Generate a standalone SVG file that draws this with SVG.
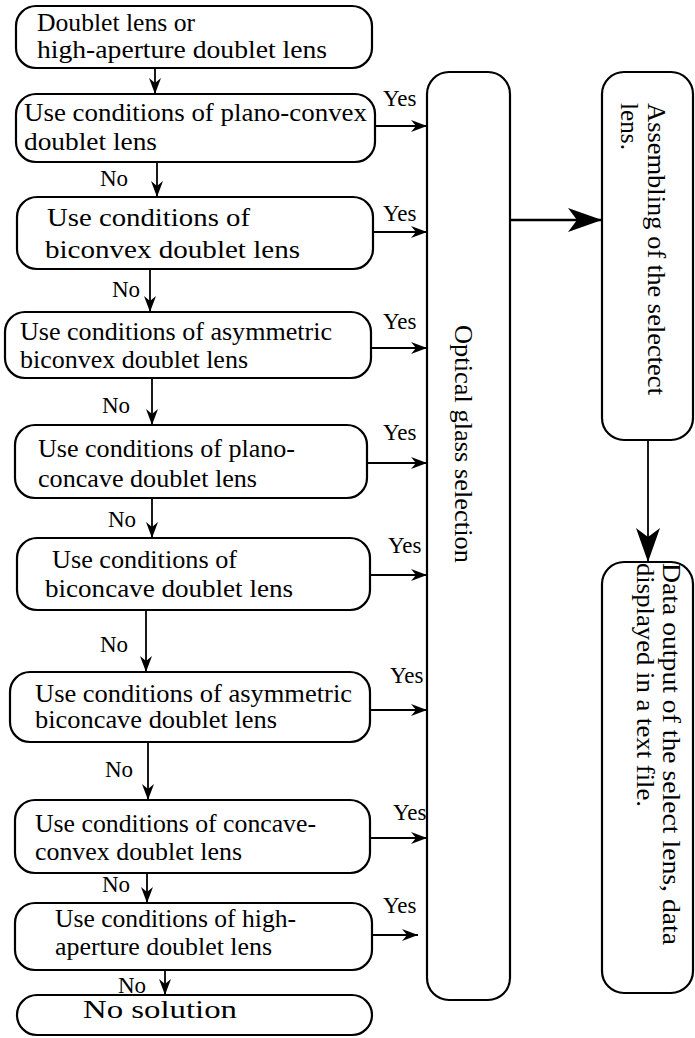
<svg xmlns="http://www.w3.org/2000/svg" width="695" height="1038" viewBox="0 0 695 1038">
  <style>
    .box { fill: #ffffff; stroke: #000000; stroke-width: 2.2; }
    .lbl { font-family: "Liberation Serif", "Times New Roman", serif; font-size: 25px; fill: #000000; }
    .tag { font-family: "Liberation Serif", "Times New Roman", serif; font-size: 23px; fill: #000000; }
    .edge { fill: none; stroke: #000000; stroke-width: 1.8; }
    .thick { fill: none; stroke: #000000; stroke-width: 2.6; }
  </style>
  <defs>
    <marker id="arrow" viewBox="0 0 16 12" refX="16" refY="6" markerWidth="16" markerHeight="12" markerUnits="userSpaceOnUse" orient="auto">
      <path d="M0,0 L16,6 L0,12 L5,6 z" fill="#000000"/>
    </marker>
    <marker id="arrowBig" viewBox="0 0 34 24" refX="34" refY="12" markerWidth="34" markerHeight="24" markerUnits="userSpaceOnUse" orient="auto">
      <path d="M0,0 L34,12 L0,24 L9,12 z" fill="#000000"/>
    </marker>
  </defs>

  <!-- decision chain on the left -->
  <g id="start">
    <rect class="box" x="16" y="6" width="356" height="62" rx="20"/>
    <text class="lbl" x="37" y="31" textLength="158" lengthAdjust="spacingAndGlyphs">Doublet lens or</text>
    <text class="lbl" x="37" y="58" textLength="290" lengthAdjust="spacingAndGlyphs">high-aperture doublet lens</text>
  </g>
  <g id="plano-convex">
    <rect class="box" x="16" y="94" width="359" height="68" rx="20"/>
    <text class="lbl" x="24" y="121" textLength="343" lengthAdjust="spacingAndGlyphs">Use conditions of plano-convex</text>
    <text class="lbl" x="24" y="150" textLength="133" lengthAdjust="spacingAndGlyphs">doublet lens</text>
  </g>
  <g id="biconvex">
    <rect class="box" x="17" y="197" width="356" height="72" rx="20"/>
    <text class="lbl" x="47" y="226" textLength="203" lengthAdjust="spacingAndGlyphs">Use conditions of</text>
    <text class="lbl" x="45" y="258" textLength="255" lengthAdjust="spacingAndGlyphs">biconvex doublet lens</text>
  </g>
  <g id="asym-biconvex">
    <rect class="box" x="5" y="312" width="366" height="66" rx="20"/>
    <text class="lbl" x="20" y="340" textLength="312" lengthAdjust="spacingAndGlyphs">Use conditions of asymmetric</text>
    <text class="lbl" x="20" y="368" textLength="228" lengthAdjust="spacingAndGlyphs">biconvex doublet lens</text>
  </g>
  <g id="plano-concave">
    <rect class="box" x="15" y="425" width="352" height="73" rx="20"/>
    <text class="lbl" x="38" y="457" textLength="257" lengthAdjust="spacingAndGlyphs">Use conditions of plano-</text>
    <text class="lbl" x="38" y="487" textLength="219" lengthAdjust="spacingAndGlyphs">concave doublet lens</text>
  </g>
  <g id="biconcave">
    <rect class="box" x="17" y="538" width="353" height="72" rx="20"/>
    <text class="lbl" x="52" y="568" textLength="185" lengthAdjust="spacingAndGlyphs">Use conditions of</text>
    <text class="lbl" x="45" y="597" textLength="248" lengthAdjust="spacingAndGlyphs">biconcave doublet lens</text>
  </g>
  <g id="asym-biconcave">
    <rect class="box" x="10" y="672" width="360" height="70" rx="20"/>
    <text class="lbl" x="35" y="702" textLength="317" lengthAdjust="spacingAndGlyphs">Use conditions of asymmetric</text>
    <text class="lbl" x="35" y="728" textLength="242" lengthAdjust="spacingAndGlyphs">biconcave doublet lens</text>
  </g>
  <g id="concave-convex">
    <rect class="box" x="15" y="800" width="355" height="73" rx="20"/>
    <text class="lbl" x="35" y="832" textLength="281" lengthAdjust="spacingAndGlyphs">Use conditions of concave-</text>
    <text class="lbl" x="35" y="860" textLength="207" lengthAdjust="spacingAndGlyphs">convex doublet lens</text>
  </g>
  <g id="high-aperture">
    <rect class="box" x="15" y="903" width="357" height="67" rx="20"/>
    <text class="lbl" x="55" y="927" textLength="241" lengthAdjust="spacingAndGlyphs">Use conditions of high-</text>
    <text class="lbl" x="55" y="955" textLength="217" lengthAdjust="spacingAndGlyphs">aperture doublet lens</text>
  </g>
  <g id="no-solution">
    <rect class="box" x="17" y="995" width="355" height="40" rx="20"/>
    <text class="lbl" x="83" y="1018" textLength="154" lengthAdjust="spacingAndGlyphs">No solution</text>
  </g>

  <!-- processing stages on the right -->
  <g id="glass-selection">
    <rect class="box" x="427" y="72" width="83" height="928" rx="22"/>
    <text class="lbl" transform="translate(455,325) rotate(90)" textLength="238" lengthAdjust="spacingAndGlyphs">Optical glass selection</text>
  </g>
  <g id="assembling">
    <rect class="box" x="602" y="72" width="91" height="368" rx="22"/>
    <text class="lbl" transform="translate(648,103) rotate(90)" textLength="292" lengthAdjust="spacingAndGlyphs">Assembling of the selectect</text>
    <text class="lbl" transform="translate(621,103) rotate(90)" textLength="47" lengthAdjust="spacingAndGlyphs">lens.</text>
  </g>
  <g id="data-output">
    <rect class="box" x="602" y="562" width="91" height="431" rx="22"/>
    <text class="lbl" transform="translate(663,563) rotate(90)" textLength="382" lengthAdjust="spacingAndGlyphs">Data output of the select lens, data</text>
    <text class="lbl" transform="translate(637,563) rotate(90)" textLength="244" lengthAdjust="spacingAndGlyphs">displayed in a text file.</text>
  </g>

  <g id="connectors">
    <!-- "No" branches down the chain -->
    <line class="edge" x1="155" y1="68" x2="155" y2="94" marker-end="url(#arrow)"/>
    <line class="edge" x1="157" y1="162" x2="157" y2="197" marker-end="url(#arrow)"/>
    <line class="edge" x1="150" y1="269" x2="150" y2="312" marker-end="url(#arrow)"/>
    <line class="edge" x1="152" y1="378" x2="152" y2="425" marker-end="url(#arrow)"/>
    <line class="edge" x1="152" y1="498" x2="152" y2="538" marker-end="url(#arrow)"/>
    <line class="edge" x1="146" y1="610" x2="146" y2="672" marker-end="url(#arrow)"/>
    <line class="edge" x1="148" y1="742" x2="148" y2="800" marker-end="url(#arrow)"/>
    <line class="edge" x1="147" y1="873" x2="147" y2="903" marker-end="url(#arrow)"/>
    <line class="edge" x1="165" y1="970" x2="165" y2="995" marker-end="url(#arrow)"/>
    <text class="tag" x="100" y="186">No</text>
    <text class="tag" x="112" y="297">No</text>
    <text class="tag" x="102" y="413">No</text>
    <text class="tag" x="108" y="527">No</text>
    <text class="tag" x="100" y="652">No</text>
    <text class="tag" x="105" y="777">No</text>
    <text class="tag" x="102" y="892">No</text>
    <text class="tag" x="118" y="993">No</text>

    <!-- "Yes" branches into glass selection -->
    <line class="edge" x1="375" y1="126" x2="427" y2="126" marker-end="url(#arrow)"/>
    <line class="edge" x1="373" y1="232" x2="427" y2="232" marker-end="url(#arrow)"/>
    <line class="edge" x1="371" y1="348" x2="427" y2="348" marker-end="url(#arrow)"/>
    <line class="edge" x1="367" y1="463" x2="427" y2="463" marker-end="url(#arrow)"/>
    <line class="edge" x1="370" y1="575" x2="427" y2="575" marker-end="url(#arrow)"/>
    <line class="edge" x1="370" y1="710" x2="427" y2="710" marker-end="url(#arrow)"/>
    <line class="edge" x1="370" y1="838" x2="427" y2="838" marker-end="url(#arrow)"/>
    <line class="edge" x1="372" y1="935" x2="418" y2="935" marker-end="url(#arrow)"/>
    <text class="tag" x="383" y="106">Yes</text>
    <text class="tag" x="383" y="221">Yes</text>
    <text class="tag" x="383" y="329">Yes</text>
    <text class="tag" x="383" y="440">Yes</text>
    <text class="tag" x="388" y="553">Yes</text>
    <text class="tag" x="390" y="683">Yes</text>
    <text class="tag" x="393" y="820">Yes</text>
    <text class="tag" x="383" y="913">Yes</text>

    <!-- stage to stage -->
    <line class="thick" x1="510" y1="220" x2="602" y2="220" marker-end="url(#arrowBig)"/>
    <line class="edge" x1="648" y1="440" x2="648" y2="562" marker-end="url(#arrowBig)"/>
  </g>
</svg>
